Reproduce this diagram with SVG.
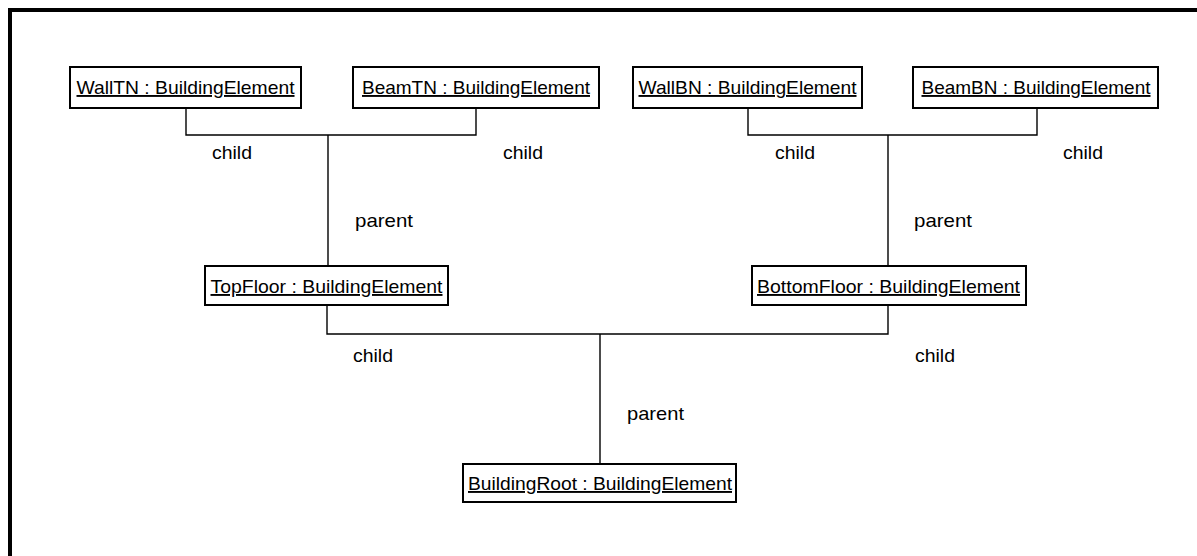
<svg xmlns="http://www.w3.org/2000/svg" width="1197" height="556" viewBox="0 0 1197 556">
  <style>
    .frame { fill: none; stroke: #000; stroke-width: 4; }
    .box { fill: #fff; stroke: #000; stroke-width: 2; }
    .name { font-family: "Liberation Sans", Arial, sans-serif; font-size: 19px; fill: #000; text-anchor: middle; text-decoration: underline; }
    .role { font-family: "Liberation Sans", Arial, sans-serif; font-size: 19px; fill: #000; }
    .wire { fill: none; stroke: #000; stroke-width: 1.4; }
  </style>

  <rect x="0" y="0" width="1197" height="556" fill="#fff"/>
  <path class="frame" d="M10,556 V10 H1197"/>

  <!-- association lines -->
  <g id="connectors">
    <path class="wire" d="M186,108 V135 H476 V108 M328,135 V266"/>
    <path class="wire" d="M748,108 V135 H1037 V108 M888,135 V266"/>
    <path class="wire" d="M327,305 V334 H888 V305 M600,334 V464"/>
  </g>

  <!-- role labels -->
  <g id="roles">
    <text class="role" x="212" y="158.5" textLength="40" lengthAdjust="spacingAndGlyphs">child</text>
    <text class="role" x="503" y="158.5" textLength="40" lengthAdjust="spacingAndGlyphs">child</text>
    <text class="role" x="775" y="158.5" textLength="40" lengthAdjust="spacingAndGlyphs">child</text>
    <text class="role" x="1063" y="158.5" textLength="40" lengthAdjust="spacingAndGlyphs">child</text>
    <text class="role" x="355" y="226.5" textLength="58" lengthAdjust="spacingAndGlyphs">parent</text>
    <text class="role" x="914" y="226.5" textLength="58" lengthAdjust="spacingAndGlyphs">parent</text>
    <text class="role" x="353" y="361.5" textLength="40" lengthAdjust="spacingAndGlyphs">child</text>
    <text class="role" x="915" y="361.5" textLength="40" lengthAdjust="spacingAndGlyphs">child</text>
    <text class="role" x="627" y="419.5" textLength="57" lengthAdjust="spacingAndGlyphs">parent</text>
  </g>

  <g id="wallTN">
    <rect class="box" x="70" y="67" width="231" height="41"/>
    <text class="name" x="185.5" y="94" textLength="218" lengthAdjust="spacingAndGlyphs">WallTN : BuildingElement</text>
  </g>
  <g id="beamTN">
    <rect class="box" x="353" y="67" width="246" height="41"/>
    <text class="name" x="476" y="94" textLength="228" lengthAdjust="spacingAndGlyphs">BeamTN : BuildingElement</text>
  </g>
  <g id="wallBN">
    <rect class="box" x="633" y="67" width="229" height="41"/>
    <text class="name" x="747.5" y="94" textLength="218" lengthAdjust="spacingAndGlyphs">WallBN : BuildingElement</text>
  </g>
  <g id="beamBN">
    <rect class="box" x="913" y="67" width="245" height="41"/>
    <text class="name" x="1036" y="94" textLength="229" lengthAdjust="spacingAndGlyphs">BeamBN : BuildingElement</text>
  </g>
  <g id="topFloor">
    <rect class="box" x="205" y="266" width="243" height="39"/>
    <text class="name" x="326.5" y="293" textLength="232" lengthAdjust="spacingAndGlyphs">TopFloor : BuildingElement</text>
  </g>
  <g id="bottomFloor">
    <rect class="box" x="752" y="266" width="274" height="39"/>
    <text class="name" x="888.5" y="293" textLength="263" lengthAdjust="spacingAndGlyphs">BottomFloor : BuildingElement</text>
  </g>
  <g id="buildingRoot">
    <rect class="box" x="463" y="464" width="273" height="38"/>
    <text class="name" x="600" y="490" textLength="264" lengthAdjust="spacingAndGlyphs">BuildingRoot : BuildingElement</text>
  </g>
</svg>
